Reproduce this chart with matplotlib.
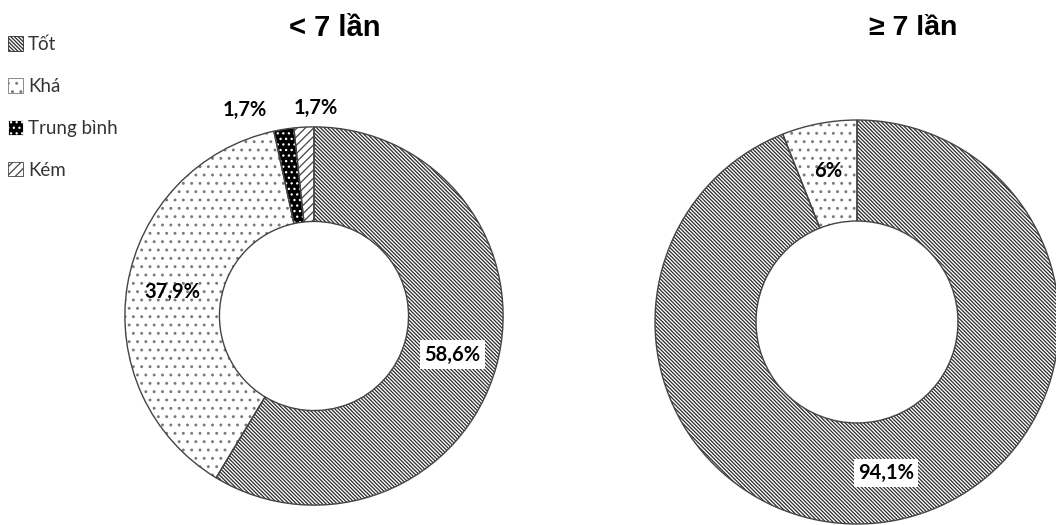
import matplotlib
matplotlib.use("Agg")
import matplotlib.pyplot as plt
from matplotlib.patches import Patch
import numpy as np

# data
categories = ["Tốt", "Khá", "Trung bình", "Kém"]
left_title = "< 7 lần"
right_title = "≥ 7 lần"
left_values = [58.6, 37.9, 1.7, 1.7]
right_values = [94.1, 6.0]
left_labels = ["58,6%", "37,9%", "1,7%", "1,7%"]
right_labels = ["94,1%", "6%"]

hatches = ["\\" * 9, "..", "...", "////"]
faces = ["white", "white", "black", "white"]
hatch_cols = ["#2a2a2a", "#7a7a7a", "white", "#444444"]

plt.rcParams["hatch.linewidth"] = 0.9
LABEL_FONT = "Lato"

fig = plt.figure(figsize=(10.56, 5.25), dpi=100)
W, H = 1056, 525


def px_axes(x0, y0, x1, y1):
    # pixel box (top-left origin) -> figure axes
    return fig.add_axes([x0 / W, 1 - y1 / H, (x1 - x0) / W, (y1 - y0) / H])


def donut(ax, values, labels, boxed):
    n = len(values)
    wedges, _ = ax.pie(values, startangle=90, counterclock=False,
                       colors=faces[:n], radius=1.0,
                       wedgeprops=dict(width=0.5, linewidth=0))
    for w, h, hc in zip(wedges, hatches, hatch_cols):
        w.set_hatch(h)
        w.set_edgecolor(hc)
    # outlines
    ax.pie(values, startangle=90, counterclock=False, radius=1.0,
           wedgeprops=dict(width=0.5, fill=False, edgecolor="#444444", linewidth=1.0))
    total = sum(values)
    start = 90.0
    for i, (v, lab) in enumerate(zip(values, labels)):
        mid = np.radians(start - v / total * 180)
        start -= v / total * 360
        if v < 3:
            # small slices: labels sit above the ring, pushed apart
            r = 1.05
            x, y = np.cos(mid) * r, np.sin(mid) * r
            left_side = np.cos(mid) < -0.1
            x = x - 0.08 if left_side else x - 0.05
            ax.text(x, y, lab, ha="right" if left_side else "left", va="bottom",
                    fontsize=14.5, fontweight="bold", family=LABEL_FONT)
        else:
            r = 0.76
            kw = {}
            if i in boxed:
                kw["bbox"] = dict(facecolor="white", edgecolor="none", pad=3)
            ax.text(np.cos(mid) * r, np.sin(mid) * r, lab, ha="center", va="center",
                    fontsize=14.5, fontweight="bold", family=LABEL_FONT, **kw)
    ax.set_xlim(-1.01, 1.01)
    ax.set_ylim(-1.01, 1.01)
    ax.set_aspect("equal")
    ax.axis("off")


ax1 = px_axes(123, 125, 505, 507)
donut(ax1, left_values, left_labels, boxed=[0])
ax2 = px_axes(653, 118, 1061, 526)
donut(ax2, right_values, right_labels, boxed=[0])

fig.text(335 / W, 1 - 28 / H, left_title, ha="center", va="center", fontsize=21,
         fontweight="bold", family="Liberation Sans")
fig.text(913 / W, 1 - 28 / H, right_title, ha="center", va="center", fontsize=20.5,
         fontweight="bold", family="Liberation Sans")

handles = [Patch(facecolor=f, edgecolor=hc, hatch=h, linewidth=0.6)
           for f, h, hc in zip(faces, hatches, hatch_cols)]
leg = fig.legend(handles, categories, loc="upper left", bbox_to_anchor=(0.008, 1 - 36 / H),
                 frameon=False, borderaxespad=0, borderpad=0,
                 handlelength=0.8, handleheight=0.8, handletextpad=0.25,
                 labelspacing=1.33, prop=dict(family=LABEL_FONT, size=13.5))
for t in leg.get_texts():
    t.set_color("#333333")

fig.savefig("out.png", dpi=100)
